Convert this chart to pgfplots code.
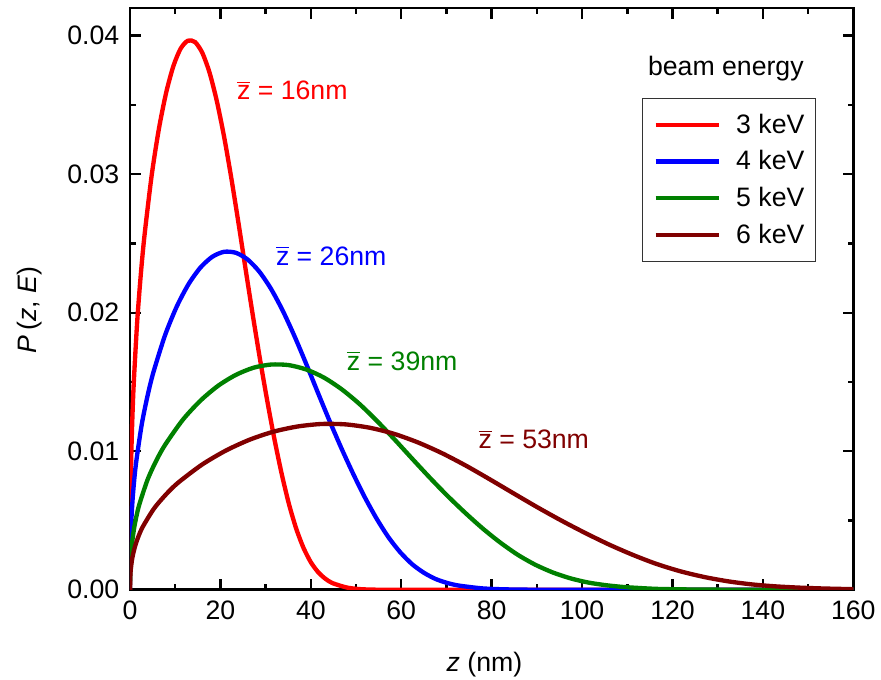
\documentclass[border=0pt]{standalone}
\usepackage{fontspec}
\setmainfont{Liberation Sans}
\usepackage{pgfplots}
\pgfplotsset{compat=1.18}
\definecolor{cred}{RGB}{255,0,0}
\definecolor{cblue}{RGB}{0,0,255}
\definecolor{cgreen}{RGB}{0,128,0}
\definecolor{cbrown}{RGB}{128,0,0}
\begin{document}
\begin{tikzpicture}[font=\fontsize{12}{14.4}\selectfont]
\useasboundingbox (-58.5pt,-40.2pt) rectangle (337.95pt,265.4pt);
\begin{axis}[
  scale only axis, width=325.5pt, height=261.8pt,
  xmin=0, xmax=160, ymin=0, ymax=0.042,
  xtick={0,20,...,160}, ytick={0,0.01,0.02,0.03,0.04},
  minor x tick num=1, minor y tick num=1,
  tick pos=both, tick align=inside,
  major tick length=4.8pt, minor tick length=2.6pt,
  major tick style={black, line width=1.1pt},
  minor tick style={black, line width=1.1pt},
  axis line style={line width=1.25pt},
  /pgf/number format/assume math mode=true,
  scaled y ticks=false,
  y tick label style={/pgf/number format/fixed, /pgf/number format/zerofill, /pgf/number format/precision=2, xshift=-1.3pt},
  x tick label style={yshift=-1.4pt},
  every axis x label/.style={at={(axis description cs:0.49,-0.141)}, anchor=base},
  every axis y label/.style={at={(axis description cs:-0.1286,0.481)}, rotate=90, anchor=base},
  xlabel={\textit{z} (nm)},
  ylabel={\textit{P}\,(\textit{z}, \textit{E})},
  legend style={at={(rel axis cs:0.7075,0.8458)}, anchor=north west, draw=black!80, line width=0.6pt,
    inner xsep=5pt, inner ysep=3.7pt, column sep=6.75pt,
    nodes={inner xsep=0pt, inner ysep=2.6pt, text height=9.3pt, text depth=2pt},
    font=\fontsize{12}{14.4}\selectfont},
  legend cell align=left,
  legend image code/.code={\draw[#1] (0pt,0pt) -- (28.5pt,0pt);},
  every axis plot/.append style={line width=1.95pt, smooth, tension=0.45},
]
\addplot[cred] coordinates {(0,0) (0.032,0.00406) (0.16,0.00773) (0.4,0.01114) (0.8,0.01471) (1.6,0.01940) (2.4,0.02280) (3.2,0.02556) (4.8,0.02993) (6.4,0.03329) (8.0,0.03589) (9.6,0.03781) (11.2,0.03907) (12.8,0.03964) (14.4,0.03954) (16.0,0.03876) (17.6,0.03733) (19.2,0.03529) (20.8,0.03273) (22.4,0.02974) (24.0,0.02647) (25.6,0.02308) (27.2,0.01975) (28.8,0.01656) (30.4,0.01357) (32.0,0.01079) (33.6,0.00830) (35.2,0.00614) (36.8,0.00438) (38.4,0.00301) (40.0,0.00199) (41.6,0.00128) (43.2,0.00080) (44.8,0.00048) (48.0,0.00016) (51.2,0.00004) (56,0) (64,0) (80,0) (100,0) (120,0) (140,0) (160,0)};
\addlegendentry{3 keV}
\addplot[cblue] coordinates {(0,0) (0.052,0.00250) (0.26,0.00475) (0.65,0.00686) (1.3,0.00905) (2.6,0.01194) (3.9,0.01403) (5.2,0.01573) (7.8,0.01842) (10.4,0.02049) (13.0,0.02209) (15.6,0.02327) (18.2,0.02404) (20.8,0.02440) (23.4,0.02433) (26.0,0.02385) (28.6,0.02297) (31.2,0.02172) (33.8,0.02014) (36.4,0.01830) (39.0,0.01629) (41.6,0.01420) (44.2,0.01215) (46.8,0.01019) (49.4,0.00835) (52.0,0.00664) (54.6,0.00511) (57.2,0.00378) (59.8,0.00270) (62.4,0.00185) (65.0,0.00123) (67.6,0.00078) (70.2,0.00049) (72.8,0.00030) (78.0,0.00010) (83.2,0.00003) (91,0) (100,0) (115,0) (130,0) (145,0) (160,0)};
\addlegendentry{4 keV}
\addplot[cgreen] coordinates {(0,0) (0.078,0.00166) (0.39,0.00317) (0.975,0.00457) (1.95,0.00603) (3.9,0.00796) (5.85,0.00935) (7.8,0.01048) (11.7,0.01228) (15.6,0.01366) (19.5,0.01473) (23.4,0.01551) (27.3,0.01603) (31.2,0.01626) (35.1,0.01622) (39.0,0.01590) (42.9,0.01532) (46.8,0.01448) (50.7,0.01343) (54.6,0.01220) (58.5,0.01086) (62.4,0.00947) (66.3,0.00810) (70.2,0.00679) (74.1,0.00557) (78.0,0.00443) (81.9,0.00341) (85.8,0.00252) (89.7,0.00180) (93.6,0.00124) (97.5,0.00082) (101.4,0.00052) (105.3,0.00033) (109.2,0.00020) (113.1,0.00012) (117,0.00006) (124.8,0.00002) (136.5,0) (148,0) (160,0)};
\addlegendentry{5 keV}
\addplot[cbrown] coordinates {(0,0) (0.106,0.00122) (0.53,0.00233) (1.325,0.00336) (2.65,0.00444) (5.3,0.00586) (7.95,0.00688) (10.6,0.00772) (15.9,0.00903) (21.2,0.01005) (26.5,0.01084) (31.8,0.01142) (37.1,0.01179) (42.4,0.01197) (47.7,0.01194) (53.0,0.01170) (58.3,0.01127) (63.6,0.01065) (68.9,0.00988) (74.2,0.00898) (79.5,0.00799) (84.8,0.00697) (90.1,0.00596) (95.4,0.00500) (100.7,0.00410) (106.0,0.00326) (111.3,0.00251) (116.6,0.00185) (121.9,0.00132) (127.2,0.00091) (132.5,0.00060) (137.8,0.00038) (143.1,0.00024) (148.4,0.00015) (153.7,0.00009) (159,0.00005) (160,0.00004)};
\addlegendentry{6 keV}
\node[anchor=base] at (axis cs:131.8,0.03716) {beam energy};
\node[cred, anchor=base west, inner sep=0pt] at (axis cs:23.6,0.03536) {$\overline{\mbox{z}}$ = 16nm};
\node[cblue, anchor=base west, inner sep=0pt] at (axis cs:32.2,0.02344) {$\overline{\mbox{z}}$ = 26nm};
\node[cgreen, anchor=base west, inner sep=0pt] at (axis cs:47.9,0.01586) {$\overline{\mbox{z}}$ = 39nm};
\node[cbrown, anchor=base west, inner sep=0pt] at (axis cs:77.0,0.01021) {$\overline{\mbox{z}}$ = 53nm};
\end{axis}
\end{tikzpicture}
\end{document}
